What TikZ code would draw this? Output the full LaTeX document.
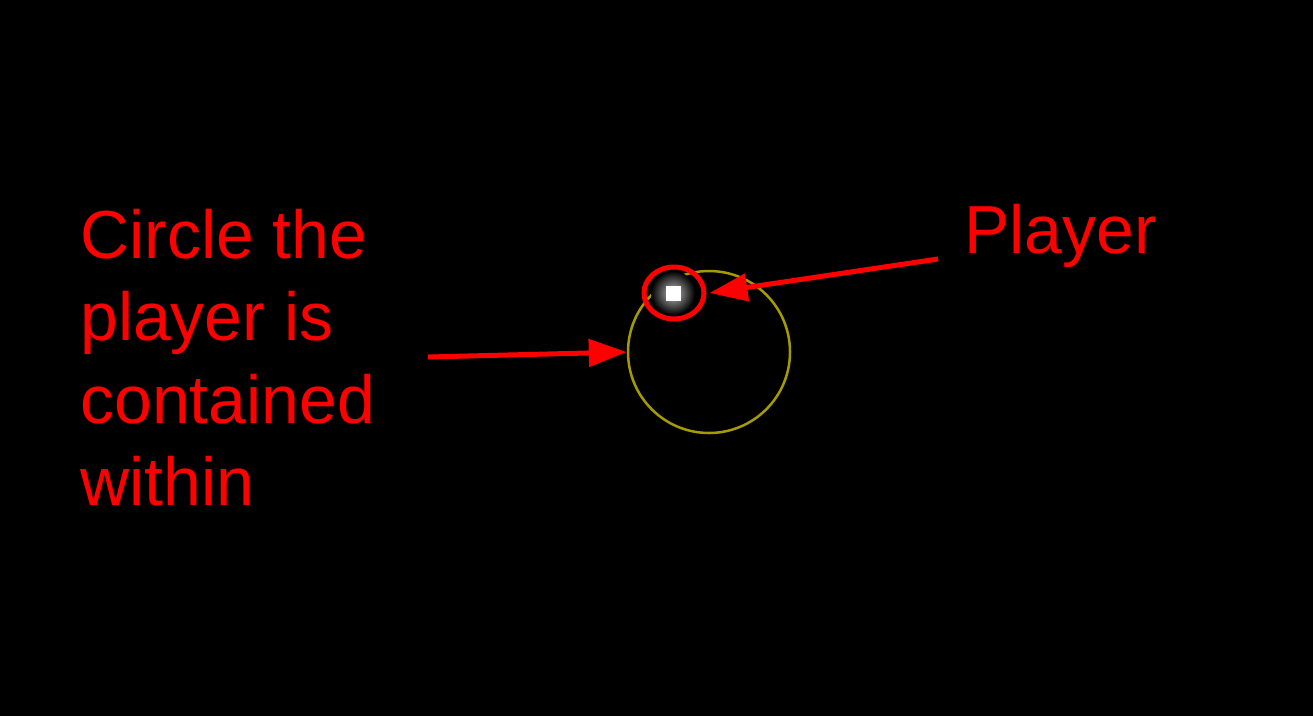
\documentclass[tikz,border=0pt]{standalone}
\usepackage{fontspec}
\setmainfont{Liberation Sans}
\usetikzlibrary{arrows.meta,shapes.geometric}
\definecolor{annred}{RGB}{255,0,0}
\definecolor{ringyellow}{RGB}{165,155,0}
\tikzset{
  annot/.style={text=annred, font=\fontsize{68}{82.5}\selectfont, inner sep=0pt},
  annarrow/.style={draw=annred, line width=5pt, -{Triangle[length=38pt,width=27pt]}},
}
\begin{document}
\begin{tikzpicture}[x=1pt,y=-1pt]
\fill[black] (0,0) rectangle (1313,716);
\useasboundingbox (0,0) rectangle (1313,716);
% contained circle
\node[draw=ringyellow, line width=2.5pt, circle, minimum size=162pt, inner sep=0pt] (circ) at (709,352) {};
% player glow and square
\shade[inner color=gray!55, outer color=black] (673,293) circle (22);
\node[fill=white, minimum size=15pt, inner sep=0pt] (player) at (673,293) {};
% red ring around player
\node[draw=annred, line width=5pt, ellipse, minimum width=60pt, minimum height=52pt, inner sep=0pt] (ring) at (674,293) {};
% labels
\node[annot, anchor=north west, align=left] (lbl) at (80,209) {Circle the\\player is\\contained\\within};
\node[annot, anchor=base west] (plbl) at (964,253) {Player};
% arrows
\coordinate (a1) at (428,357);
\coordinate (a2) at (938,259);
\draw[annarrow] (a1) -- (circ.west);
\draw[annarrow] (a2) -- ([xshift=3pt]ring.east);
\end{tikzpicture}
\end{document}
